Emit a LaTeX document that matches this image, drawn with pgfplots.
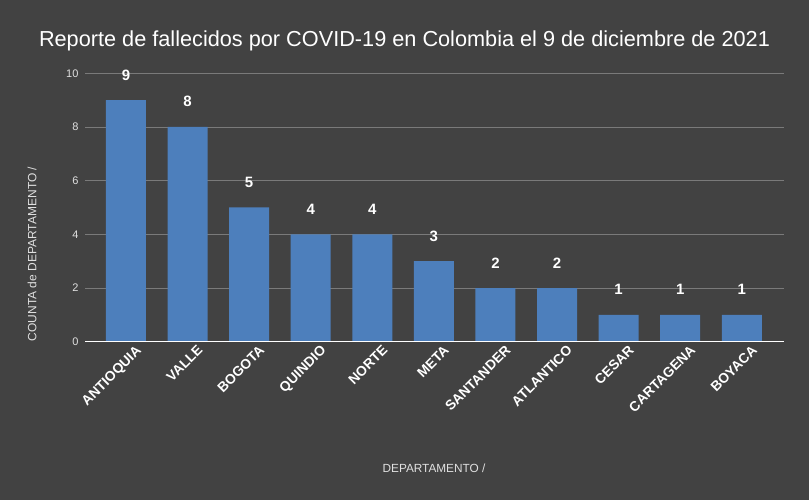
\documentclass[border=0pt]{standalone}
\usepackage{pgfplots}
\pgfplotsset{compat=1.18}
\usepackage{fontspec}
\setmainfont{Liberation Sans}
\definecolor{bg}{HTML}{424242}
\definecolor{barc}{HTML}{4D7FBC}
\definecolor{gridc}{HTML}{7A7A7A}
\definecolor{tickc}{HTML}{E0E0E0}
\begin{document}
\begin{tikzpicture}
\fill[bg] (0,0) rectangle (809pt,500pt);
\node[text=white, font=\fontsize{21.7}{24}\selectfont] at (404.5pt,459pt) {Reporte de fallecidos por COVID-19 en Colombia el 9 de diciembre de 2021};
\node[text=tickc, rotate=90, font=\fontsize{12}{14}\selectfont] at (32pt,246pt) {COUNTA de DEPARTAMENTO /};
\node[text=tickc, font=\fontsize{11.8}{14}\selectfont] at (434pt,32pt) {DEPARTAMENTO /};
\begin{axis}[
  at={(85pt,158.3pt)}, anchor=south west,
  scale only axis, width=699pt, height=268.4pt,
  xmin=-0.665, xmax=10.685, ymin=0, ymax=10,
  ytick={0,2,4,6,8,10},
  xtick=data,
  xticklabels={ANTIOQUIA,VALLE,BOGOTA,QUINDIO,NORTE,META,SANTANDER,ATLANTICO,CESAR,CARTAGENA,BOYACA},
  axis line style={draw=none},
  major tick length=0pt,
  ymajorgrids, grid style={gridc, line width=0.8pt},
  yticklabel style={text=tickc, font=\fontsize{11}{13}\selectfont, xshift=-3pt},
  xticklabel style={text=white, font=\bfseries\fontsize{13.8}{16}\selectfont, rotate=45, anchor=north east, xshift=8pt, yshift=-5pt},
  /pgf/number format/assume math mode=true,
  ybar, bar width=40pt, bar shift=0pt,
  nodes near coords,
  every node near coord/.append style={text=white, font=\bfseries\fontsize{15}{17}\selectfont, anchor=base, yshift=20pt},
  clip=false,
]
\addplot[fill=barc, draw=none] coordinates {(0,9) (1,8) (2,5) (3,4) (4,4) (5,3) (6,2) (7,2) (8,1) (9,1) (10,1)};
\draw[white, line width=1pt] (rel axis cs:0,0) -- (rel axis cs:1,0);
\end{axis}
\end{tikzpicture}
\end{document}
